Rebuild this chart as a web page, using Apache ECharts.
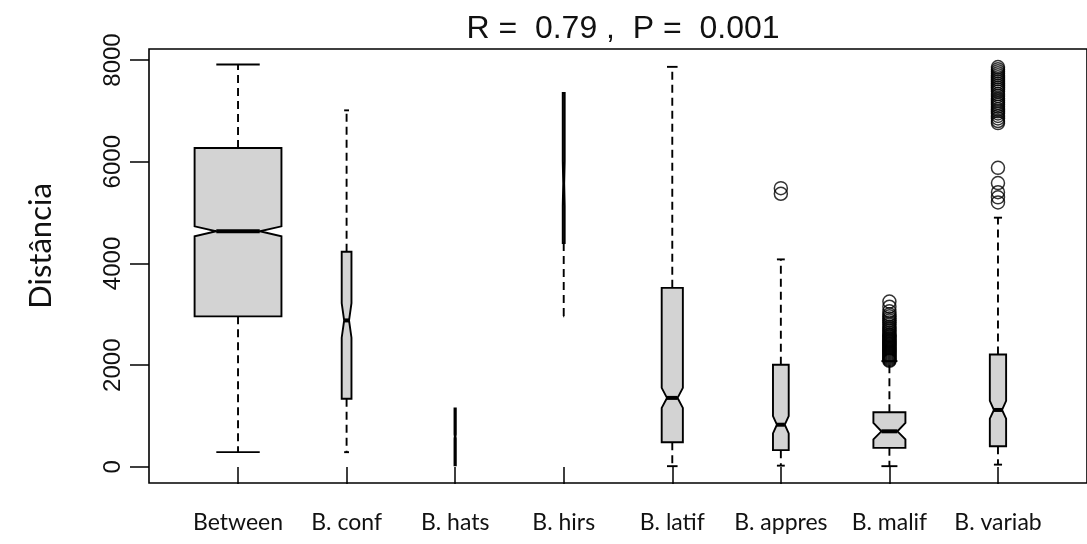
<!DOCTYPE html>
<html>
<head>
<meta charset="utf-8">
<script src="https://cdn.jsdelivr.net/npm/echarts@6/dist/echarts.min.js"></script>
<style>html,body{margin:0;padding:0;background:#fff}#c{width:1087px;height:544px}</style>
</head>
<body>
<div id="c"></div>
<script>
const categories = ['Between', 'B. conf', 'B. hats', 'B. hirs', 'B. latif', 'B. appres', 'B. malif', 'B. variab'];
const whiskerLow  = [290, 290, 30, 2960, 15, 25, 15, 45];
const q1          = [2960, 1340, 30, 4400, 485, 330, 375, 405];
const notchLo     = [4535, 2540, 560, 5130, 1160, 660, 540, 950];
const median      = [4633, 2880, 600, 5570, 1357, 830, 700, 1120];
const notchHi     = [4730, 3220, 640, 6010, 1555, 1000, 865, 1300];
const q3          = [6270, 4230, 1150, 7350, 3520, 2010, 1075, 2210];
const whiskerHigh = [7910, 7010, 1150, 7350, 7865, 4080, 2080, 4900];
const apresOutliers  = [5480, 5370];
const malifOutliers  = [2085, 2100, 2120, 2140, 2160, 2180, 2200, 2220, 2240, 2260, 2280, 2300, 2320, 2340, 2360, 2380, 2400, 2420, 2440, 2460, 2480, 2500, 2520, 2545, 2570, 2590, 2610, 2640, 2670, 2700, 2730, 2760, 2800, 2840, 2880, 2920, 2960, 3000, 3060, 3150, 3250];
const variabOutliers = [5200, 5300, 5400, 5580, 5880, 6760, 6800, 6850, 6900, 6950, 6990, 7030, 7080, 7120, 7160, 7200, 7240, 7290, 7330, 7380, 7420, 7460, 7500, 7540, 7580, 7620, 7660, 7700, 7740, 7780, 7820, 7860];
const yTicks = [0, 2000, 4000, 6000, 8000];
const titleText = 'R =  0.79 ,  P =  0.001';
const yName = 'Distância';

// style: relative box widths (varwidth look)
const boxWidths = [0.8, 0.09, 0.012, 0.018, 0.195, 0.145, 0.295, 0.15];

const boxData = categories.map((c, i) => [i + 1, whiskerLow[i], q1[i], notchLo[i], median[i], notchHi[i], q3[i], whiskerHigh[i]]);
const outlierData = []
  .concat(apresOutliers.map(v => [6, v]))
  .concat(malifOutliers.map(v => [7, v]))
  .concat(variabOutliers.map(v => [8, v]));

function renderBox(params, api) {
  const i = params.dataIndex;
  const x = api.value(0);
  const cx = api.coord([x, 0])[0];
  const Y = k => api.coord([x, api.value(k)])[1];
  const yWl = Y(1), yQ1 = Y(2), yNl = Y(3), yMed = Y(4), yNh = Y(5), yQ3 = Y(6), yWh = Y(7);
  const hw = api.size([boxWidths[i], 0])[0] / 2;
  const nw = hw / 2;
  const lineW = 1.9;
  const children = [];
  if (yWh < yQ3 - 0.5) {
    children.push({type: 'line', shape: {x1: cx, y1: yQ3, x2: cx, y2: yWh}, style: {stroke: '#000', lineWidth: lineW, lineDash: [8, 5]}});
    children.push({type: 'line', shape: {x1: cx - nw, y1: yWh, x2: cx + nw, y2: yWh}, style: {stroke: '#000', lineWidth: lineW}});
  }
  if (yWl > yQ1 + 0.5) {
    children.push({type: 'line', shape: {x1: cx, y1: yQ1, x2: cx, y2: yWl}, style: {stroke: '#000', lineWidth: lineW, lineDash: [8, 5]}});
    children.push({type: 'line', shape: {x1: cx - nw, y1: yWl, x2: cx + nw, y2: yWl}, style: {stroke: '#000', lineWidth: lineW}});
  }
  children.push({
    type: 'polygon',
    shape: {points: [
      [cx - hw, yQ1], [cx - hw, yNl], [cx - nw, yMed], [cx - hw, yNh], [cx - hw, yQ3],
      [cx + hw, yQ3], [cx + hw, yNh], [cx + nw, yMed], [cx + hw, yNl], [cx + hw, yQ1]
    ]},
    style: {fill: '#d3d3d3', stroke: '#000', lineWidth: lineW, lineJoin: 'miter'}
  });
  children.push({type: 'line', shape: {x1: cx - nw, y1: yMed, x2: cx + nw, y2: yMed}, style: {stroke: '#000', lineWidth: 4}});
  return {type: 'group', children: children};
}

const chart = echarts.init(document.getElementById('c'), null, {renderer: 'canvas'});
chart.setOption({
  backgroundColor: '#fff',
  animation: false,
  title: {
    text: titleText, left: 618, top: 8, textAlign: 'center',
    textStyle: {fontFamily: 'Liberation Sans', fontSize: 32, fontWeight: 'normal', color: '#111'}
  },
  grid: {left: 149, top: 49, right: -14, bottom: 61, show: true, borderColor: '#000', borderWidth: 1.6, backgroundColor: 'transparent'},
  xAxis: {
    type: 'value', min: 0.18, max: 8.82,
    axisLine: {show: false},
    splitLine: {show: false},
    axisTick: {show: true, inside: false, length: 17, customValues: categories.map((c, i) => i + 1), lineStyle: {color: '#000', width: 1.5}},
    axisLabel: {
      show: true, customValues: categories.map((c, i) => i + 1), margin: 28,
      formatter: v => categories[Math.round(v) - 1],
      fontFamily: 'Lato', fontSize: 23, color: '#111'
    }
  },
  yAxis: {
    type: 'value', min: -316, max: 8216,
    axisLine: {show: false},
    splitLine: {show: false},
    axisTick: {show: true, inside: false, length: 19, customValues: yTicks, lineStyle: {color: '#000', width: 1.5}},
    axisLabel: {
      show: true, customValues: yTicks, rotate: 90, margin: 24,
      formatter: v => String(v),
      fontFamily: 'Liberation Sans', fontSize: 24, color: '#111'
    }
  },
  graphic: [{
    type: 'text', x: 41, y: 246, rotation: Math.PI / 2,
    style: {text: yName, align: 'center', verticalAlign: 'middle', font: '31px Lato', fill: '#111'}
  }],
  series: [
    {
      type: 'custom', renderItem: renderBox, data: boxData,
      encode: {x: 0, y: [1, 2, 3, 4, 5, 6, 7]}, z: 2
    },
    {
      type: 'scatter', data: outlierData, symbol: 'circle', symbolSize: 13, z: 3,
      itemStyle: {color: 'rgba(255,255,255,0)', borderColor: '#000', borderWidth: 1.5}
    }
  ]
});
</script>
</body>
</html>
